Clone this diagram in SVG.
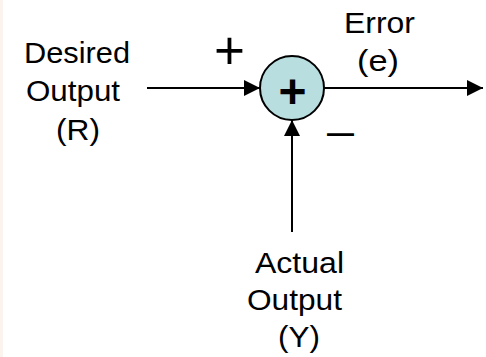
<svg xmlns="http://www.w3.org/2000/svg" width="486" height="357" viewBox="0 0 486 357">
  <style>
    .lbl { font-family: "Liberation Sans", Arial, sans-serif; font-size: 29px; fill: #000; }
    .sign { font-family: "Liberation Sans", Arial, sans-serif; fill: #000; }
    .conn { stroke: #000; stroke-width: 2; fill: none; }
  </style>
  <defs>
    <marker id="arrow" viewBox="0 0 16 16" refX="16" refY="8" markerWidth="16" markerHeight="16" markerUnits="userSpaceOnUse" orient="auto">
      <path d="M0,0 L16,8 L0,16 Z" fill="#000"/>
    </marker>
  </defs>
  <rect x="0" y="0" width="486" height="357" fill="#ffffff"/>
  <rect x="0" y="0" width="3" height="357" fill="#faf3ee"/>

  <g id="connectors">
    <line class="conn" x1="147" y1="88" x2="260" y2="88" marker-end="url(#arrow)"/>
    <line class="conn" x1="324" y1="88" x2="483" y2="88" marker-end="url(#arrow)"/>
    <line class="conn" x1="292" y1="232" x2="292" y2="120" marker-end="url(#arrow)"/>
  </g>

  <g id="input-R">
    <text class="lbl" x="24" y="63" textLength="106" lengthAdjust="spacingAndGlyphs">Desired</text>
    <text class="lbl" x="26" y="101" textLength="94" lengthAdjust="spacingAndGlyphs">Output</text>
    <text class="lbl" x="56" y="140" textLength="44" lengthAdjust="spacingAndGlyphs">(R)</text>
    <text class="sign" x="229.5" y="68.7" font-size="53" text-anchor="middle">+</text>
  </g>

  <g id="sum">
    <circle cx="292" cy="88" r="32" fill="#b8dee0" stroke="#000" stroke-width="2"/>
    <text class="sign" x="292.5" y="108" font-size="48" font-weight="bold" text-anchor="middle">+</text>
    <text class="sign" x="327" y="145" font-size="42" textLength="27" lengthAdjust="spacingAndGlyphs">–</text>
  </g>

  <g id="output-e">
    <text class="lbl" x="344" y="33" textLength="71" lengthAdjust="spacingAndGlyphs">Error</text>
    <text class="lbl" x="357" y="71" textLength="42" lengthAdjust="spacingAndGlyphs">(e)</text>
  </g>

  <g id="feedback-Y">
    <text class="lbl" x="255" y="273" textLength="89" lengthAdjust="spacingAndGlyphs">Actual</text>
    <text class="lbl" x="247" y="310" textLength="95" lengthAdjust="spacingAndGlyphs">Output</text>
    <text class="lbl" x="278" y="347" textLength="42" lengthAdjust="spacingAndGlyphs">(Y)</text>
  </g>
</svg>
